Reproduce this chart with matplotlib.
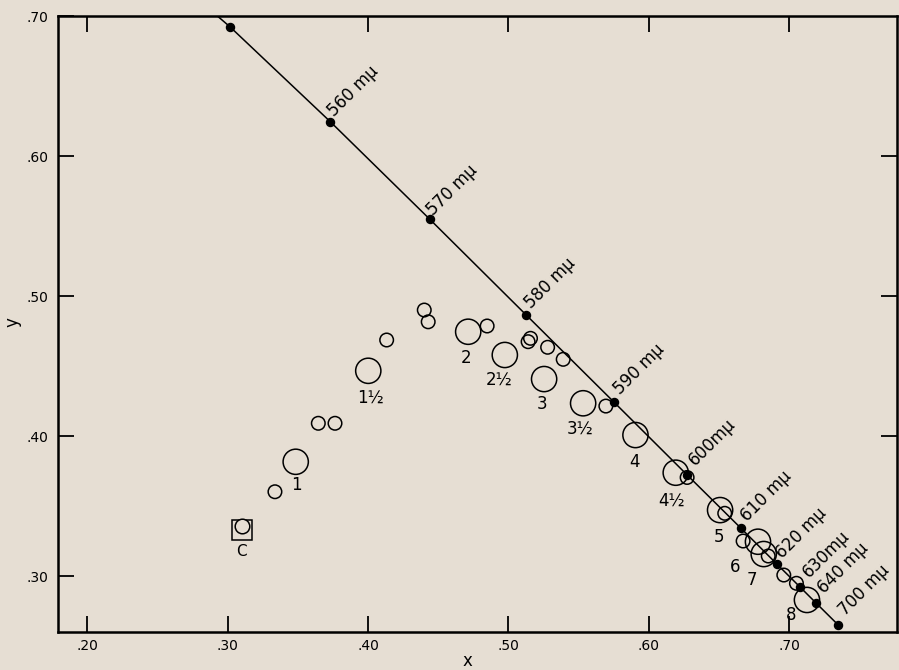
import matplotlib.pyplot as plt
from matplotlib.ticker import FuncFormatter

# spectrum locus points marked on the chart (x, y chromaticity)
wl_labels = ["", "560 mμ", "570 mμ", "580 mμ", "590 mμ", "600mμ", "610 mμ",
             "620 mμ", "630mμ", "640 mμ", "700 mμ"]
wl_x = [0.3016, 0.3731, 0.4441, 0.5125, 0.5752, 0.6270, 0.6658, 0.6915, 0.7079, 0.7190, 0.7347]
wl_y = [0.6923, 0.6245, 0.5547, 0.4866, 0.4242, 0.3725, 0.3340, 0.3083, 0.2920, 0.2809, 0.2653]
# 540 mμ point, only there so the locus runs up to the frame
locus_start_x = 0.2296
locus_start_y = 0.7543

# numbered (large) samples
big_labels = ["1", "1½", "2", "2½", "3", "3½", "4", "4½", "5", "6", "7", "8"]
big_x = [0.3484, 0.4001, 0.4713, 0.4974, 0.5254, 0.5532, 0.5905, 0.6192, 0.6508, 0.6778, 0.6819, 0.7127]
big_y = [0.3816, 0.4466, 0.4745, 0.4579, 0.4407, 0.4234, 0.4007, 0.3738, 0.3471, 0.3245, 0.3157, 0.2829]

# small samples
small_x = [0.3336, 0.3645, 0.3764, 0.4132, 0.4400, 0.4428, 0.4848, 0.5157, 0.5140,
           0.5279, 0.5390, 0.5694, 0.6273, 0.6541, 0.6672, 0.6851, 0.6962, 0.7052]
small_y = [0.3602, 0.4091, 0.4091, 0.4686, 0.4900, 0.4816, 0.4786, 0.4698, 0.4674,
           0.4634, 0.4548, 0.4214, 0.3704, 0.3448, 0.3250, 0.3143, 0.3007, 0.2948]

# illuminant C
c_circle = (0.3099, 0.3359)
c_square = (0.3099, 0.3329)

x_ticks = [0.20, 0.30, 0.40, 0.50, 0.60, 0.70]
y_ticks = [0.30, 0.40, 0.50, 0.60, 0.70]

# label offsets in pixels (right, up)
wl_off = [(0, 0), (4, 5), (3, 3), (5, 6), (6, 7), (8, 8), (6, 6), (5, 5), (9, 9), (8, 9), (7, 8)]
big_off = [(1, -23), (2, -27), (-2, -26), (-6, -25), (-2, -25), (-3, -25), (-1, -27),
           (-4, -28), (-1, -27), (-23, -25), (-12, -26), (-16, -15)]

bg = "#e6ded3"
plt.rcParams['font.family'] = ['DejaVu Sans']

fig = plt.figure(figsize=(8.99, 6.70), dpi=100, facecolor=bg)
ax = fig.add_axes([0.0645, 0.0567, 0.9335, 0.9193], facecolor=bg)

ax.plot([locus_start_x] + wl_x, [locus_start_y] + wl_y, color="black", lw=1.1, zorder=2)
ax.plot(wl_x, wl_y, "o", color="black", ms=5.8, zorder=5)
for lab, x, y, off in zip(wl_labels, wl_x, wl_y, wl_off):
    if lab:
        ax.annotate(lab, (x, y), xytext=off, textcoords="offset pixels",
                    rotation=45, rotation_mode="anchor", ha="left", va="baseline",
                    fontsize=12)

ax.scatter(big_x, big_y, s=330, facecolors="none", edgecolors="black", linewidths=1.1, zorder=3)
ax.scatter(small_x, small_y, s=95, facecolors="none", edgecolors="black", linewidths=1.1, zorder=4)
for lab, x, y, off in zip(big_labels, big_x, big_y, big_off):
    ax.annotate(lab, (x, y), xytext=off, textcoords="offset pixels",
                ha="center", va="center", fontsize=12)

ax.plot([c_square[0]], [c_square[1]], "s", ms=14, mfc="none", mec="black", mew=1.1, zorder=3)
ax.plot([c_circle[0]], [c_circle[1]], "o", ms=10.5, mfc=bg, mec="black", mew=1.1, zorder=4)
ax.annotate("C", c_square, xytext=(0, -22), textcoords="offset pixels",
            ha="center", va="center", fontsize=11)

ax.set_xlim(0.179, 0.777)
ax.set_ylim(0.26, 0.70)
ax.set_xticks(x_ticks)
ax.set_yticks(y_ticks)
fmt = FuncFormatter(lambda v, p: f"{v:.2f}"[1:])
ax.xaxis.set_major_formatter(fmt)
ax.yaxis.set_major_formatter(fmt)
ax.tick_params(direction="in", top=True, right=True, length=11.5, width=1.3,
               labelsize=10, pad=5)
ax.tick_params(axis="y", pad=7)
# the original has no top tick at .30 and no right ticks at .30 / .70
ax.xaxis.get_major_ticks()[1].tick2line.set_visible(False)
ax.yaxis.get_major_ticks()[0].tick2line.set_visible(False)
ax.yaxis.get_major_ticks()[4].tick2line.set_visible(False)
for s in ax.spines.values():
    s.set_linewidth(1.8)

ax.set_xlabel("x", fontsize=12, va="center")
ax.set_ylabel("y", fontsize=12, va="center")
ax.xaxis.set_label_coords(0.4875, -0.0465)
ax.yaxis.set_label_coords(-0.0548, 0.503)

fig.savefig("out.png", dpi=100, facecolor=bg)
